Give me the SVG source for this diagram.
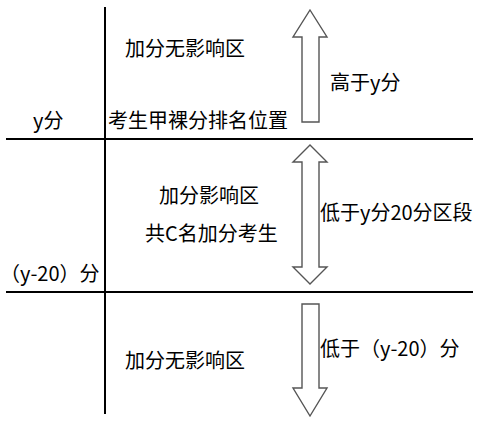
<svg xmlns="http://www.w3.org/2000/svg" width="494" height="422" viewBox="0 0 494 422">
<style>
.ln{stroke:#000;stroke-width:2;fill:none}
.ar{fill:#fff;stroke:#555;stroke-width:1.4;stroke-linejoin:miter}
text{font-family:"Noto Sans CJK SC","Liberation Sans",sans-serif;font-size:20px;fill:#000}
</style>
<rect width="494" height="422" fill="#fff"/>
<g id="connectors">
<line class="ln" x1="105" y1="7" x2="105" y2="414"/>
<line class="ln" x1="6" y1="139" x2="473" y2="139"/>
<line class="ln" x1="6" y1="292" x2="473" y2="292"/>
</g>
<g id="arrow-up"><polygon class="ar" points="310,10 327,37 319,37 319,122 302,122 302,37 293,37"/></g>
<g id="arrow-both"><polygon class="ar" points="310,145 327,162 319,162 319,267 327,267 310,284 293,267 302,267 302,162 293,162"/></g>
<g id="arrow-down"><polygon class="ar" points="302,304 319,304 319,388 327,388 310,416 293,388 302,388"/></g>
<g id="zone-top"><text x="125" y="56">加分无影响区</text></g>
<g id="rank-pos"><text x="108" y="128">考生甲裸分排名位置</text></g>
<g id="label-y"><text x="33" y="128">y分</text></g>
<g id="label-above"><text x="330" y="90">高于y分</text></g>
<g id="zone-mid"><text x="159" y="203">加分影响区</text><text x="145" y="241">共C名加分考生</text></g>
<g id="label-y20"><text x="0" y="281">（y-20）分</text></g>
<g id="label-band"><text x="320" y="220">低于y分20分区段</text></g>
<g id="label-below"><text x="320" y="356">低于（y-20）分</text></g>
<g id="zone-bottom"><text x="125" y="368">加分无影响区</text></g>
</svg>
